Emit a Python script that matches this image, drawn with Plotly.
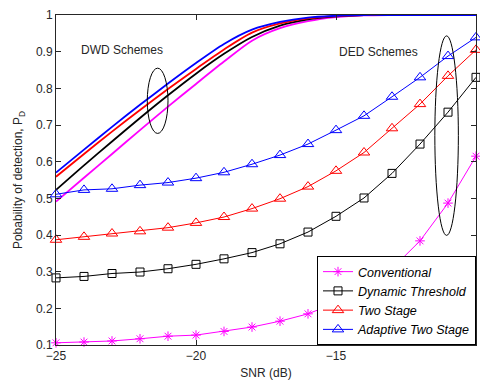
import plotly.graph_objects as go

# SNR grid (dB)
snr = [-25, -24, -23, -22, -21, -20, -19, -18, -17, -16, -15, -14, -13, -12, -11, -10]

# DED schemes (marked curves)
conv_ded = [0.106, 0.108, 0.111, 0.117, 0.124, 0.127, 0.137, 0.149, 0.165, 0.185,
            0.215, 0.255, 0.308, 0.384, 0.487, 0.615]
dyn_ded = [0.283, 0.287, 0.295, 0.299, 0.308, 0.320, 0.335, 0.352, 0.376, 0.408,
           0.451, 0.501, 0.568, 0.648, 0.735, 0.830]
two_ded = [0.387, 0.395, 0.404, 0.410, 0.420, 0.433, 0.449, 0.472, 0.499, 0.532,
           0.575, 0.625, 0.691, 0.757, 0.834, 0.905]
adapt_ded = [0.511, 0.523, 0.526, 0.536, 0.543, 0.555, 0.571, 0.593, 0.618, 0.648,
             0.686, 0.725, 0.777, 0.830, 0.888, 0.939]

# DWD schemes (plain curves)
conv_dwd = [0.491, 0.556, 0.621, 0.686, 0.750, 0.812, 0.873, 0.930, 0.964, 0.983,
            0.994, 0.999, 1.0, 1.0, 1.0, 1.0]
dyn_dwd = [0.523, 0.590, 0.655, 0.719, 0.781, 0.840, 0.894, 0.940, 0.971, 0.988,
           0.996, 1.0, 1.0, 1.0, 1.0, 1.0]
two_dwd = [0.559, 0.621, 0.682, 0.741, 0.798, 0.853, 0.906, 0.952, 0.977, 0.991,
           0.997, 1.0, 1.0, 1.0, 1.0, 1.0]
adapt_dwd = [0.570, 0.633, 0.695, 0.755, 0.813, 0.869, 0.921, 0.960, 0.981, 0.993,
             0.998, 1.0, 1.0, 1.0, 1.0, 1.0]

names = ["Conventional", "Dynamic Threshold", "Two Stage", "Adaptive Two Stage"]
colors = ["#ff00ff", "#000000", "#ff0000", "#0000ff"]
symbols = ["asterisk-open", "square-open", "triangle-up-open", "triangle-up-open"]
ded_series = [conv_ded, dyn_ded, two_ded, adapt_ded]
dwd_series = [conv_dwd, dyn_dwd, two_dwd, adapt_dwd]

FONT = "Liberation Sans, Arial, sans-serif"
TXT = "#262626"

fig = go.Figure()

for vals, col in zip(dwd_series, colors):
    fig.add_trace(go.Scatter(
        x=snr, y=vals, mode="lines", showlegend=False,
        line=dict(color=col, width=1.8, shape="spline", smoothing=0.8),
        hoverinfo="skip",
    ))

for name, vals, col, sym in zip(names, ded_series, colors, symbols):
    fig.add_trace(go.Scatter(
        x=snr, y=vals, mode="lines+markers", name=name,
        line=dict(color=col, width=1),
        marker=dict(symbol=sym, size=10 if "triangle" in sym else 8,
                    color=col, line=dict(color=col, width=1)),
        cliponaxis=False,
    ))

# Ellipses grouping the two families of curves
fig.add_shape(type="circle", xref="x", yref="y", x0=-21.74, x1=-21.00,
              y0=0.677, y1=0.855, line=dict(color="black", width=1))
fig.add_shape(type="circle", xref="x", yref="y", x0=-11.47, x1=-10.63,
              y0=0.399, y1=0.943, line=dict(color="black", width=1))

fig.add_annotation(x=-22.63, y=0.905, text="DWD Schemes", showarrow=False,
                   font=dict(family=FONT, size=12, color=TXT))
fig.add_annotation(x=-13.47, y=0.900, text="DED Schemes", showarrow=False,
                   font=dict(family=FONT, size=12, color=TXT))

axis_common = dict(
    showline=True, linecolor="#262626", linewidth=1, mirror="ticks",
    ticks="inside", ticklen=5, tickcolor="#262626", showgrid=False,
    zeroline=False, tickfont=dict(family=FONT, size=12, color=TXT),
)

fig.update_xaxes(range=[-25, -10], tickvals=[-25, -20, -15, -10],
                 title=dict(text="SNR (dB)", font=dict(family=FONT, size=12, color=TXT),
                            standoff=6),
                 **axis_common)
fig.update_yaxes(range=[0.1, 1], tickvals=[0.1, 0.2, 0.3, 0.4, 0.5, 0.6, 0.7, 0.8, 0.9, 1],
                 ticktext=["0.1", "0.2", "0.3", "0.4", "0.5", "0.6", "0.7", "0.8", "0.9", "1"],
                 title=dict(text="Pobability of detection, P<sub>D</sub>",
                            font=dict(family=FONT, size=12, color=TXT), standoff=10),
                 **axis_common)

fig.update_layout(
    width=480, height=384,
    margin=dict(l=56, r=4, t=15, b=39),
    paper_bgcolor="white", plot_bgcolor="white",
    font=dict(family=FONT, size=12, color=TXT),
    legend=dict(x=1, y=0, xanchor="right", yanchor="bottom",
                bgcolor="white", bordercolor="black", borderwidth=1,
                font=dict(family=FONT, size=12.5, color="#000000", style="italic"),
                tracegroupgap=0),
)

fig.write_html("out.html")
